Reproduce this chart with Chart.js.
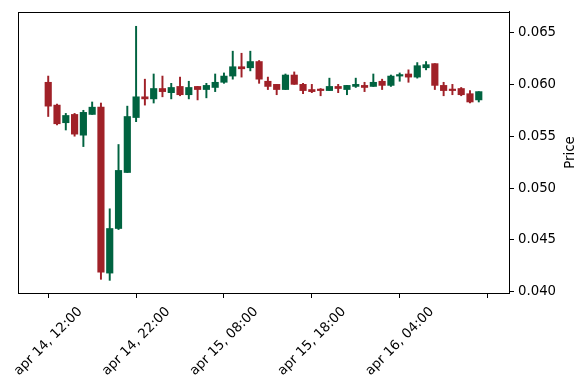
<!DOCTYPE html>
<html>
<head>
<meta charset="utf-8">
<script src="https://cdn.jsdelivr.net/npm/chart.js@4"></script>
<style>
  html, body { margin: 0; padding: 0; background: #fff; }
</style>
</head>
<body>
<canvas id="mychart" width="588" height="390"></canvas>
<script>
// hourly candles, first one is apr 14, 12:00
const opens  = [0.0602, 0.0580, 0.0563, 0.0571, 0.0551, 0.0571, 0.0578, 0.0418, 0.0461, 0.0515,
                0.0568, 0.0588, 0.0586, 0.0596, 0.0592, 0.0598, 0.0590, 0.0598, 0.0595, 0.0597,
                0.0602, 0.0608, 0.0617, 0.0616, 0.0622, 0.0603, 0.0600, 0.0595, 0.0609, 0.0600,
                0.0595, 0.0595, 0.0594, 0.0598, 0.0595, 0.0598, 0.0599, 0.0598, 0.0603, 0.0599,
                0.0608, 0.0610, 0.0607, 0.0616, 0.0620, 0.0599, 0.0595, 0.0596, 0.0591, 0.0585];
const highs  = [0.0608, 0.0581, 0.0572, 0.0572, 0.0575, 0.0583, 0.0582, 0.0480, 0.0542, 0.0579,
                0.0656, 0.0605, 0.0610, 0.0608, 0.0601, 0.0607, 0.0603, 0.0598, 0.0601, 0.0610,
                0.0611, 0.0632, 0.0630, 0.0632, 0.0623, 0.0607, 0.0600, 0.0610, 0.0612, 0.0601,
                0.0600, 0.0596, 0.0606, 0.0600, 0.0599, 0.0606, 0.0602, 0.0610, 0.0605, 0.0609,
                0.0611, 0.0614, 0.0621, 0.0622, 0.0620, 0.0602, 0.0600, 0.0597, 0.0594, 0.0593];
const lows   = [0.0569, 0.0561, 0.0556, 0.0550, 0.0540, 0.0571, 0.0412, 0.0411, 0.0460, 0.0515,
                0.0564, 0.0580, 0.0582, 0.0588, 0.0586, 0.0589, 0.0586, 0.0585, 0.0587, 0.0593,
                0.0601, 0.0605, 0.0607, 0.0613, 0.0601, 0.0595, 0.0590, 0.0595, 0.0600, 0.0591,
                0.0592, 0.0589, 0.0594, 0.0592, 0.0590, 0.0597, 0.0593, 0.0598, 0.0595, 0.0598,
                0.0603, 0.0602, 0.0606, 0.0614, 0.0595, 0.0589, 0.0590, 0.0589, 0.0582, 0.0583];
const closes = [0.0579, 0.0562, 0.0570, 0.0552, 0.0573, 0.0578, 0.0419, 0.0461, 0.0517, 0.0569,
                0.0588, 0.0586, 0.0596, 0.0593, 0.0597, 0.0590, 0.0597, 0.0595, 0.0599, 0.0602,
                0.0608, 0.0617, 0.0615, 0.0622, 0.0605, 0.0598, 0.0595, 0.0609, 0.0600, 0.0594,
                0.0593, 0.0594, 0.0598, 0.0596, 0.0599, 0.0600, 0.0597, 0.0602, 0.0599, 0.0608,
                0.0609, 0.0607, 0.0618, 0.0619, 0.0599, 0.0594, 0.0594, 0.0590, 0.0583, 0.0593];

const tickPos    = [0, 10, 20, 30, 40, 50];
const tickLabels = ["apr 14, 12:00", "apr 14, 22:00", "apr 15, 08:00", "apr 15, 18:00", "apr 16, 04:00", ""];
const priceTicks = [0.040, 0.045, 0.050, 0.055, 0.060, 0.065];

const upColor = "#006340";
const downColor = "#a02128";
const colors = opens.map((o, i) => closes[i] >= o ? upColor : downColor);

const font = { family: "DejaVu Sans", size: 13.3 };

// box round the plot + rotated y title like matplotlib
const frame = {
  id: "frame",
  afterDraw(chart) {
    const { ctx, chartArea: a } = chart;
    ctx.save();
    ctx.strokeStyle = "#000";
    ctx.lineWidth = 1;
    ctx.strokeRect(Math.round(a.left) + 0.5, Math.round(a.top) + 0.5,
                   Math.round(a.right - a.left), Math.round(a.bottom - a.top));
    ctx.translate(571, (a.top + a.bottom) / 2);
    ctx.rotate(-Math.PI / 2);
    ctx.font = "13.3px 'DejaVu Sans'";
    ctx.fillStyle = "#000";
    ctx.textAlign = "center";
    ctx.textBaseline = "middle";
    ctx.fillText("Price", 0, 0);
    ctx.restore();
  }
};

new Chart(document.getElementById("mychart"), {
  type: "bar",
  data: {
    datasets: [{
      label: "body",
      data: opens.map((o, i) => ({ x: i, y: [o, closes[i]] })),
      backgroundColor: colors,
      borderColor: colors,
      borderWidth: 0,
      barThickness: 6.5,
      minBarLength: 1.5,
      grouped: false
    }, {
      label: "wick",
      data: lows.map((l, i) => ({ x: i, y: [l, highs[i]] })),
      backgroundColor: colors,
      borderWidth: 0,
      barThickness: 1.3,
      grouped: false
    }]
  },
  options: {
    responsive: false,
    animation: false,
    layout: { padding: { left: 18, top: 10, right: 0, bottom: 0 } },
    plugins: { legend: { display: false }, tooltip: { enabled: false } },
    scales: {
      x: {
        type: "linear",
        min: -3.44,
        max: 52.44,
        offset: false,
        afterBuildTicks: s => { s.ticks = tickPos.map(v => ({ value: v })); },
        afterFit: s => { s.height = 97; s.paddingLeft = 0; s.paddingRight = 0; },
        grid: { display: true, offset: false, drawOnChartArea: false, tickLength: 5, color: "#000" },
        border: { display: true, color: "#000" },
        ticks: {
          color: "#000",
          font: font,
          minRotation: 45,
          maxRotation: 45,
          autoSkip: false,
          labelOffset: 32,
          padding: 6,
          callback: v => tickLabels[tickPos.indexOf(v)] ?? ""
        }
      },
      y: {
        position: "right",
        min: 0.03988,
        max: 0.06698,
        afterBuildTicks: s => { s.ticks = priceTicks.map(v => ({ value: v })); },
        afterFit: s => { s.width = 79; },
        grid: { display: true, drawOnChartArea: false, tickLength: 5, color: "#000" },
        border: { display: true, color: "#000" },
        ticks: {
          color: "#000",
          font: font,
          padding: 4,
          callback: v => v.toFixed(3)
        }
      }
    }
  },
  plugins: [frame]
});
</script>
</body>
</html>
